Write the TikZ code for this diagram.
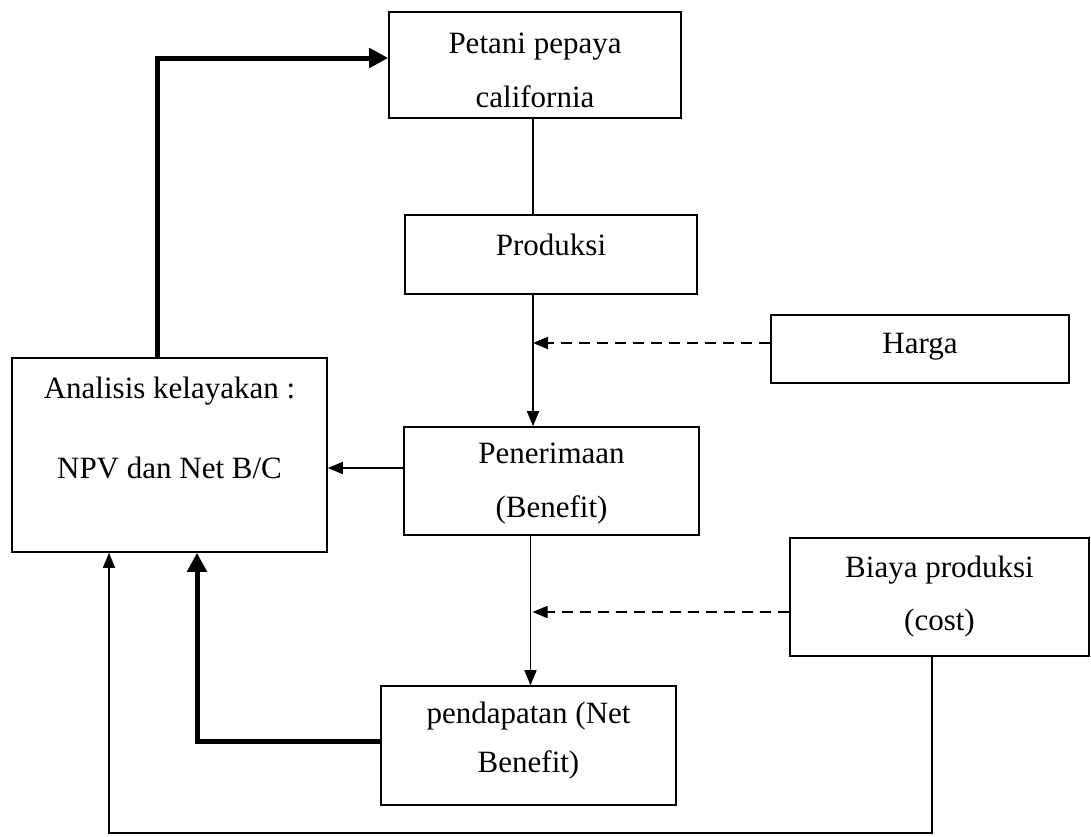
\documentclass[tikz,border=0pt]{standalone}
\usepackage{fontspec}
\setmainfont{Liberation Serif}
\usetikzlibrary{arrows.meta}
\newcommand{\tnr}{\fontsize{31}{37}\selectfont}
\newcommand{\twoline}[3]{\vtop{\baselineskip=#1\relax\lineskiplimit=-100pt\halign{\hfil##\hfil\cr#2\cr#3\cr}}}
\begin{document}
\begin{tikzpicture}[x=1pt,y=-1pt,
  box/.style={draw, line width=1.6pt, rectangle, inner sep=2pt, font=\tnr},
  conn/.style={line width=1.6pt},
  arr/.style={line width=1.6pt, -{Triangle[length=15pt,width=12pt]}},
  darr/.style={line width=1.8pt, dash pattern=on 11pt off 7pt, -{Triangle[length=15pt,width=12pt]}},
  tarr/.style={line width=5pt, -{Triangle[length=19pt,width=19pt]}}]
\useasboundingbox (0,0) rectangle (1091,836);
\node[box, minimum width=292pt, minimum height=106pt, text height=0pt, text depth=24pt] (petani) at (535,65) {\twoline{54pt}{Petani pepaya}{california}};
\node[box, minimum width=292pt, minimum height=79pt, text height=1pt, text depth=0pt] (produksi) at (551,254.5) {Produksi};
\node[box, minimum width=298pt, minimum height=68pt, text height=8pt, text depth=0pt] (harga) at (920,349) {Harga};
\node[box, minimum width=315pt, minimum height=194pt, text height=0pt, text depth=114pt] (analisis) at (169.5,455) {\twoline{80pt}{Analisis kelayakan :}{NPV dan Net B/C}};
\node[box, minimum width=295pt, minimum height=108pt, text height=0pt, text depth=36pt] (penerimaan) at (551.5,481) {\twoline{54pt}{Penerimaan}{(Benefit)}};
\node[box, minimum width=299pt, minimum height=118pt, text height=0pt, text depth=40pt] (biaya) at (939.5,597) {\twoline{53pt}{Biaya produksi}{(cost)}};
\node[box, minimum width=295pt, minimum height=119pt, text height=0pt, text depth=45pt] (pendapatan) at (528.5,745.5) {\twoline{49pt}{pendapatan (Net}{Benefit)}};
\coordinate (bl) at (109,833);
\coordinate (hs) at ([yshift=6pt]harga.west);
\coordinate (ps) at ([yshift=13pt]penerimaan.west);
\coordinate (bs) at ([yshift=-15pt]biaya.west);
\coordinate (c1) at ([xshift=-2pt]petani.south);
\coordinate (c2) at ([xshift=-21pt]penerimaan.south);
% main chain
\draw[conn] (c1) -- (c1 |- produksi.north);
\draw[arr] (c1 |- produksi.south) -- (c1 |- penerimaan.north);
\draw[darr] (hs) -- (c1 |- hs);
\draw[arr] (ps) -- (analisis.east |- ps);
\draw[arr] (c2) -- (c2 |- pendapatan.north);
\draw[darr] (bs) -- ([xshift=2pt]c2 |- bs);
% feedback lines
\draw[tarr] ([xshift=-12pt]analisis.north) |- ([yshift=7pt]petani.west);
\draw[tarr] ([yshift=4pt]pendapatan.west) -| ([xshift=27.5pt]analisis.south);
\draw[arr] ([xshift=-7.5pt]biaya.south) |- (bl) -- (bl |- analisis.south);
\end{tikzpicture}
\end{document}
